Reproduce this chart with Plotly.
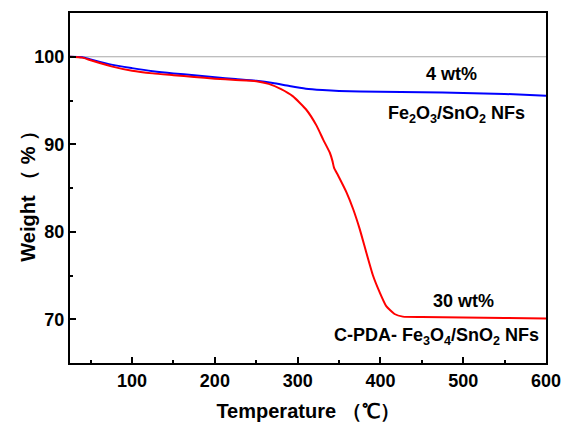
import plotly.graph_objects as go

# TGA curves: temperature (°C) vs remaining weight (%)
temp_fe2o3 = [25, 40, 50, 75, 100, 125, 150, 175, 200, 225, 250, 270, 290, 310,
              330, 350, 400, 450, 500, 550, 600]
weight_fe2o3 = [100.0, 99.95, 99.7, 99.1, 98.7, 98.35, 98.1, 97.9, 97.65, 97.45,
                97.25, 97.0, 96.65, 96.35, 96.2, 96.1, 96.0, 95.95, 95.85, 95.75, 95.55]

temp_cpda = [25, 40, 50, 75, 100, 125, 150, 175, 200, 225, 250, 265, 280, 294,
             310, 323, 331, 339, 342, 344, 349, 359, 367, 375, 383, 391, 399, 407,
             417, 427, 450, 500, 550, 600]
weight_cpda = [100.0, 99.9, 99.6, 98.9, 98.4, 98.1, 97.9, 97.7, 97.5, 97.35, 97.2,
               96.9, 96.3, 95.5, 94.0, 92.1, 90.5, 89.0, 88.1, 87.3, 86.4, 84.5,
               82.6, 80.3, 77.6, 75.0, 73.1, 71.5, 70.6, 70.3, 70.25, 70.2, 70.15, 70.1]

x_ticks = [100, 200, 300, 400, 500, 600]
y_ticks = [70, 80, 90, 100]

FONT = "Liberation Sans, Arial, sans-serif"

fig = go.Figure()

# reference line at 100 %
fig.add_shape(type="line", x0=25, x1=600, y0=100, y1=100, xref="x", yref="y",
              line=dict(color="#a8a8a8", width=1.2), layer="below")

fig.add_trace(go.Scatter(x=temp_fe2o3, y=weight_fe2o3, mode="lines",
                         line=dict(color="#0000ff", width=2, shape="spline", smoothing=0.6),
                         showlegend=False))
fig.add_trace(go.Scatter(x=temp_cpda, y=weight_cpda, mode="lines",
                         line=dict(color="#ff0000", width=2, shape="spline", smoothing=0.5),
                         showlegend=False))

ann_font = dict(family=FONT, size=18, color="black", weight="bold")
fig.add_annotation(x=486, y=98.05, text="4 wt%", showarrow=False, font=ann_font)
fig.add_annotation(x=577, y=93.4, xanchor="right",
                   text="Fe<sub>2</sub>O<sub>3</sub>/SnO<sub>2</sub> NFs",
                   showarrow=False, font=ann_font)
fig.add_annotation(x=500, y=72.1, text="30 wt%", showarrow=False, font=ann_font)
fig.add_annotation(x=594, y=68.0, xanchor="right",
                   text="C-PDA- Fe<sub>3</sub>O<sub>4</sub>/SnO<sub>2</sub> NFs",
                   showarrow=False, font=ann_font)

# vertical axis title, placed as a rotated annotation
fig.add_annotation(xref="paper", yref="paper", x=-0.090, y=0.49,
                   xanchor="center", yanchor="middle",
                   text="Weight （ % ）", textangle=-90, showarrow=False,
                   font=dict(family=FONT, size=20, color="black", weight="bold"))

axis_common = dict(
    showline=True, linecolor="black", linewidth=2, mirror=True,
    ticks="inside", tickcolor="black", tickwidth=2, ticklen=6,
    showgrid=False, zeroline=False, automargin=False,
    tickfont=dict(family=FONT, size=18, color="black", weight="bold"),
)

fig.update_xaxes(
    range=[25, 600], tickvals=x_ticks,
    minor=dict(dtick=50, tick0=0, ticks="inside", ticklen=3, tickcolor="black", tickwidth=2),
    title=dict(text="Temperature （℃）", standoff=14,
               font=dict(family=FONT, size=20, color="black", weight="bold")),
    **axis_common,
)
fig.update_yaxes(
    range=[65, 105], tickvals=y_ticks,
    minor=dict(dtick=5, tick0=0, ticks="inside", ticklen=3, tickcolor="black", tickwidth=2),
    **axis_common,
)

fig.update_layout(
    width=562, height=425,
    margin=dict(l=70, r=16, t=13, b=62),
    paper_bgcolor="white", plot_bgcolor="white",
)

fig.write_html("out.html")
